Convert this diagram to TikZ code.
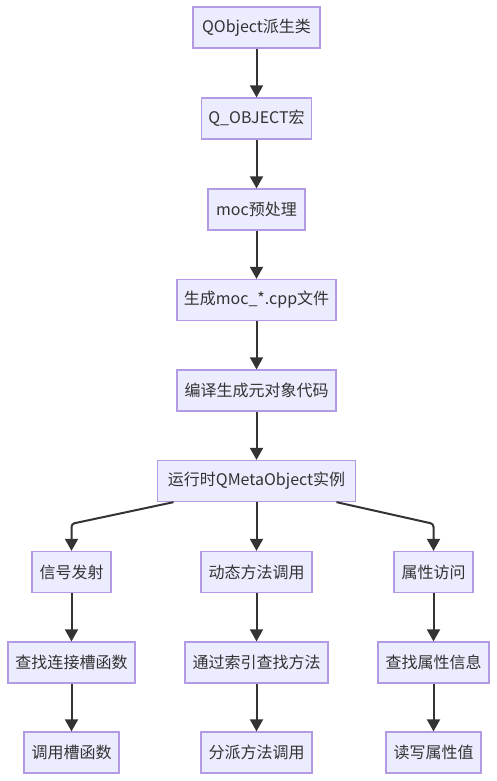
\documentclass[tikz,border=0pt]{standalone}
\usepackage{fontspec}
\setmainfont{Noto Sans CJK SC}
\usetikzlibrary{arrows.meta}
\definecolor{boxfill}{HTML}{ECECFF}
\definecolor{boxline}{HTML}{B39BE4}
\definecolor{edge}{HTML}{333333}
\tikzset{
  box/.style={draw=boxline, fill=boxfill, line width=1.3pt, minimum height=41pt, inner sep=0pt,
    font=\fontsize{16}{19}\selectfont, text=edge},
  arr/.style={draw=edge, line width=2pt, -{Triangle[length=12pt,width=13pt]}},
}
\begin{document}
\begin{tikzpicture}[x=1pt,y=-1pt]
\useasboundingbox (0,0) rectangle (497,781);
\node[box, minimum width=127pt] (A) at (256.5,27.5) {QObject派生类};
\node[box, minimum width=110pt] (B) at (256.5,118.5) {Q\_OBJECT宏};
\node[box, minimum width=97pt] (C) at (256.5,209.5) {moc预处理};
\node[box, minimum width=159pt] (D) at (256.5,300) {生成moc\_*.cpp文件};
\node[box, minimum width=159pt] (E) at (256.5,390.5) {编译生成元对象代码};
\node[box, minimum width=198pt] (F) at (256.5,481) {运行时QMetaObject实例};
\node[box, minimum width=79pt] (G1) at (71.5,572) {信号发射};
\node[box, minimum width=111pt] (G2) at (256.5,572) {动态方法调用};
\node[box, minimum width=79pt] (G3) at (433.5,572) {属性访问};
\node[box, minimum width=127pt] (H1) at (71.5,662.5) {查找连接槽函数};
\node[box, minimum width=143pt] (H2) at (256.5,662.5) {通过索引查找方法};
\node[box, minimum width=111pt] (H3) at (433.5,662.5) {查找属性信息};
\node[box, minimum width=95pt] (I1) at (71.5,752.5) {调用槽函数};
\node[box, minimum width=111pt] (I2) at (256.5,752.5) {分派方法调用};
\node[box, minimum width=95pt] (I3) at (433.5,752.5) {读写属性值};
\draw[arr] (A) -- (B);
\draw[arr] (B) -- (C);
\draw[arr] (C) -- (D);
\draw[arr] (D) -- (E);
\draw[arr] (E) -- (F);
\draw[arr] (F) -- (G2);
\draw[arr, rounded corners=3pt] ([xshift=-83pt]F.south) -- ([yshift=27pt]G1.north) -- (G1.north);
\draw[arr, rounded corners=3pt] ([xshift=80pt]F.south) -- ([yshift=27pt]G3.north) -- (G3.north);
\draw[arr] (G1) -- (H1);
\draw[arr] (H1) -- (I1);
\draw[arr] (G2) -- (H2);
\draw[arr] (H2) -- (I2);
\draw[arr] (G3) -- (H3);
\draw[arr] (H3) -- (I3);
\end{tikzpicture}
\end{document}
